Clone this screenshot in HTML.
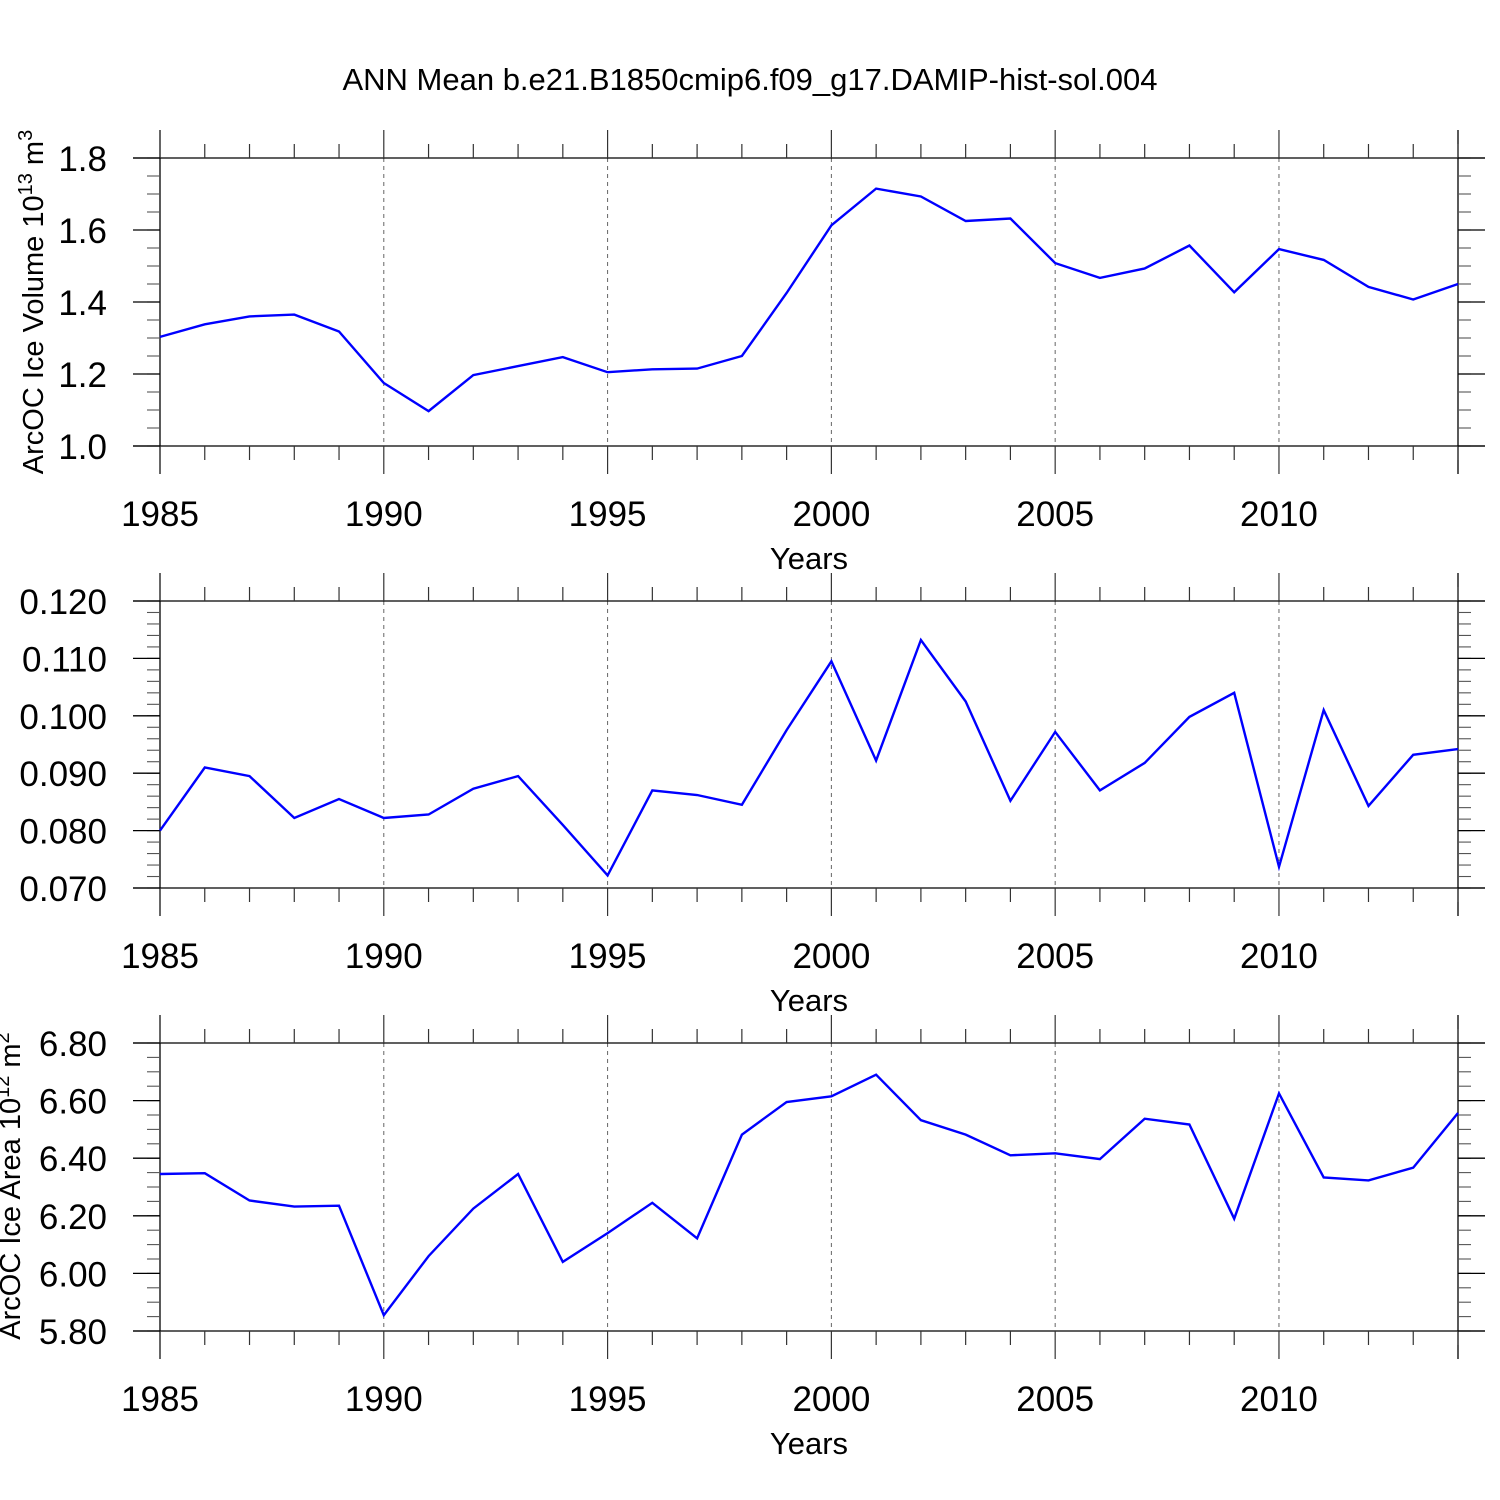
<!DOCTYPE html>
<html><head><meta charset="utf-8"><style>
html,body{margin:0;padding:0;background:#fff;}
svg{display:block;font-family:"Liberation Sans",Arial,sans-serif;}
</style></head><body>
<svg id="chart" width="1500" height="1500" viewBox="0 0 1500 1500" xmlns="http://www.w3.org/2000/svg">
<text x="750" y="90" text-anchor="middle" font-size="31">ANN Mean b.e21.B1850cmip6.f09_g17.DAMIP-hist-sol.004</text>
</svg>
<script>
const years = [1985,1986,1987,1988,1989,1990,1991,1992,1993,1994,1995,1996,1997,1998,1999,2000,2001,2002,2003,2004,2005,2006,2007,2008,2009,2010,2011,2012,2013,2014];
const volumeValues = [1.303,1.338,1.360,1.365,1.318,1.175,1.097,1.197,1.222,1.247,1.205,1.213,1.215,1.250,1.425,1.613,1.715,1.693,1.625,1.632,1.508,1.467,1.493,1.557,1.427,1.547,1.517,1.442,1.407,1.450];
const thicknessValues = [0.0800,0.0910,0.0895,0.0822,0.0855,0.0822,0.0828,0.0873,0.0895,0.0810,0.0722,0.0870,0.0862,0.0845,0.0975,0.1095,0.0922,0.1132,0.1025,0.0852,0.0972,0.0870,0.0918,0.0998,0.1040,0.0737,0.1010,0.0843,0.0932,0.0942];
const areaValues = [6.345,6.348,6.253,6.232,6.235,5.855,6.060,6.225,6.345,6.040,6.140,6.245,6.122,6.482,6.595,6.615,6.690,6.532,6.482,6.410,6.417,6.397,6.537,6.517,6.190,6.625,6.333,6.323,6.367,6.557];
const xTickLabels = ["1985","1990","1995","2000","2005","2010"];
const volumeTicks = ["1.0","1.2","1.4","1.6","1.8"];
const thicknessTicks = ["0.070","0.080","0.090","0.100","0.110","0.120"];
const areaTicks = ["5.80","6.00","6.20","6.40","6.60","6.80"];

const NS = "http://www.w3.org/2000/svg";
const svg = document.getElementById('chart');
function mk(tag, attrs, parent){const e=document.createElementNS(NS,tag);for(const k in attrs)e.setAttribute(k,attrs[k]);(parent||svg).appendChild(e);return e;}
const X0=160, X1=1458;
function xs(yr){return X0+(yr-1985)*(X1-X0)/29;}

const panels = [
 {name:'volume', vals:volumeValues, ticks:volumeTicks, ymin:1.0, ymax:1.8, minor:0.05, top:158, bot:446, label:'ArcOC Ice Volume 10<tspan baseline-shift="super" font-size="20">13</tspan> m<tspan baseline-shift="super" font-size="20">3</tspan>', labelX:43, labelY:302},
 {name:'thickness', vals:thicknessValues, ticks:thicknessTicks, ymin:0.07, ymax:0.12, minor:0.002, top:601, bot:888, label:'ArcOC Ice Thickness m', labelX:-4, labelY:745},
 {name:'area', vals:areaValues, ticks:areaTicks, ymin:5.8, ymax:6.8, minor:0.05, top:1043, bot:1331, label:'ArcOC Ice Area 10<tspan baseline-shift="super" font-size="20">12</tspan> m<tspan baseline-shift="super" font-size="20">2</tspan>', labelX:20, labelY:1186}
];

panels.forEach(p=>{
  const g = mk('g',{});
  
  
  const ys = v => p.bot-(v-p.ymin)*(p.bot-p.top)/(p.ymax-p.ymin);
  for(let yr=1990; yr<=2010; yr+=5){
    const l=mk('line',{x1:xs(yr),x2:xs(yr),y1:p.top,y2:p.bot,stroke:'#666','stroke-width':1,'stroke-dasharray':'4,4'},g);
    
    
  }
  mk('line',{x1:133,x2:1485,y1:p.top,y2:p.top,stroke:'#000','stroke-width':1.3},g);
  mk('line',{x1:133,x2:1485,y1:p.bot,y2:p.bot,stroke:'#000','stroke-width':1.3},g);
  mk('line',{x1:X0,x2:X0,y1:p.top-28,y2:p.bot+28,stroke:'#000','stroke-width':1.3},g);
  mk('line',{x1:X1,x2:X1,y1:p.top-28,y2:p.bot+28,stroke:'#000','stroke-width':1.3},g);
  years.forEach(yr=>{
    const maj=(yr%5===0); const len=maj?28:14;
    mk('line',{x1:xs(yr),x2:xs(yr),y1:p.top,y2:p.top-len,stroke:'#333','stroke-width':1.2},g);
    mk('line',{x1:xs(yr),x2:xs(yr),y1:p.bot,y2:p.bot+len,stroke:'#333','stroke-width':1.2},g);
  });
  xTickLabels.forEach(t=>{
    const tx=mk('text',{x:xs(+t),y:p.bot+80,'text-anchor':'middle','font-size':35},g);
    tx.textContent=t;
    
    
  });
  const yl=mk('text',{x:809,y:p.bot+123,'text-anchor':'middle','font-size':31},g);
  yl.textContent='Years';
  
  
  const n=Math.round((p.ymax-p.ymin)/p.minor);
  for(let i=0;i<=n;i++){
    const y=ys(p.ymin+i*p.minor);
    mk('line',{x1:X0,x2:X0-13,y1:y,y2:y,stroke:'#555','stroke-width':1.1},g);
    mk('line',{x1:X1,x2:X1+13,y1:y,y2:y,stroke:'#555','stroke-width':1.1},g);
  }
  p.ticks.forEach(t=>{
    const y=ys(+t);
    mk('line',{x1:X0,x2:133,y1:y,y2:y,stroke:'#000','stroke-width':1.3},g);
    mk('line',{x1:X1,x2:1485,y1:y,y2:y,stroke:'#000','stroke-width':1.3},g);
    const tx=mk('text',{x:107,y:y+13,'text-anchor':'end','font-size':35},g);
    tx.textContent=t;
    
    
  });
  const lab=mk('text',{x:p.labelX,y:p.labelY,'text-anchor':'middle','font-size':29,transform:'rotate(-90 '+p.labelX+' '+p.labelY+')'},g);
  lab.innerHTML=p.label;
  
  
  const pts=p.vals.map((v,i)=>xs(years[i]).toFixed(1)+','+ys(v).toFixed(1)).join(' ');
  const line=mk('polyline',{points:pts,fill:'none',stroke:'#0000ff','stroke-width':2.4,'stroke-linejoin':'miter'},g);
  
  
});
</script>
</body></html>
